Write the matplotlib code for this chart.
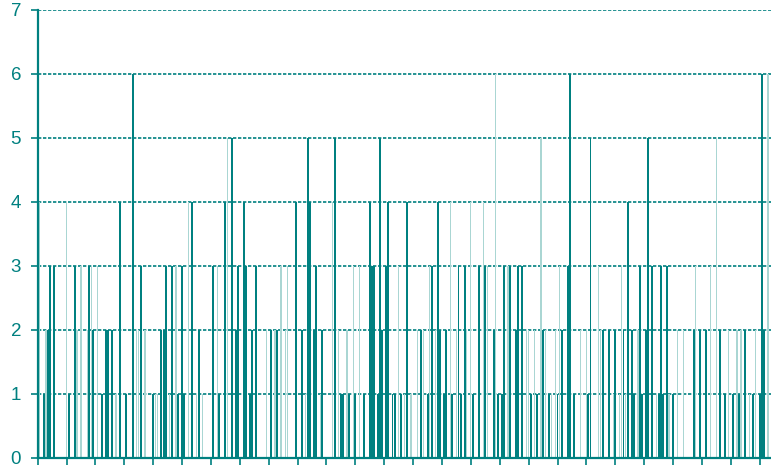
import numpy as np
import matplotlib.pyplot as plt

# counts per day, strong bars
dark_day = [3, 5, 6, 8, 15, 18, 25, 27, 31, 33, 34, 36, 40, 43, 46, 50, 56, 60, 61, 62,
            65, 68, 70, 71, 75, 78, 85, 88, 91, 94, 96, 97, 100, 101, 103, 104, 106, 113, 116, 125,
            128, 131, 132, 134, 135, 138, 144, 147, 148, 151, 154, 158, 161, 162, 163, 165, 166, 167, 169, 170,
            172, 173, 176, 179, 186, 189, 191, 194, 195, 197, 198, 201, 204, 205, 207, 211, 214, 217, 221, 223,
            225, 226, 229, 232, 233, 235, 239, 242, 245, 248, 252, 254, 257, 258, 260, 267, 268, 274, 277, 280,
            284, 286, 288, 289, 292, 293, 295, 296, 298, 301, 302, 303, 305, 308, 318, 321, 324, 331, 333, 337,
            340, 343, 347, 350, 351, 352]
dark_count = [1, 2, 3, 3, 1, 3, 3, 2, 1, 2, 2, 2, 4, 1, 6, 3, 1, 2, 2, 3,
              3, 1, 3, 1, 4, 2, 3, 1, 4, 5, 2, 3, 4, 3, 1, 2, 3, 2, 2, 4,
              2, 5, 4, 2, 3, 2, 5, 1, 1, 1, 1, 1, 4, 3, 3, 1, 5, 2, 3, 4,
              1, 1, 1, 4, 2, 1, 3, 4, 2, 1, 2, 1, 3, 1, 3, 1, 3, 3, 2, 1,
              1, 3, 3, 2, 3, 3, 1, 1, 2, 1, 1, 2, 3, 6, 1, 1, 5, 2, 2, 2,
              2, 4, 2, 1, 3, 1, 2, 5, 3, 1, 3, 1, 3, 1, 2, 2, 2, 2, 1, 1,
              1, 2, 1, 1, 6, 2]

# counts per day, faint bars
light_day = [1, 4, 14, 19, 21, 24, 26, 29, 38, 48, 49, 52, 57, 58, 64, 67, 73, 77, 80, 87,
             92, 111, 115, 118, 120, 121, 130, 137, 143, 146, 150, 153, 156, 175, 178, 181, 184, 187, 190, 193,
             200, 203, 208, 210, 216, 218, 222, 228, 237, 238, 241, 244, 246, 249, 251, 253, 263, 266, 272, 273,
             279, 282, 283, 285, 291, 300, 306, 310, 313, 319, 326, 329, 335, 339, 341, 345, 348, 354]
light_count = [4, 2, 4, 2, 3, 2, 3, 3, 1, 2, 2, 2, 1, 1, 1, 3, 4, 1, 1, 3,
               5, 2, 2, 3, 2, 3, 1, 1, 4, 2, 2, 3, 3, 3, 1, 1, 2, 2, 3, 2,
               4, 2, 2, 4, 4, 3, 6, 3, 2, 2, 2, 5, 2, 1, 2, 3, 2, 2, 3, 2,
               1, 1, 3, 1, 2, 1, 1, 2, 2, 3, 3, 5, 2, 2, 2, 1, 2, 6]

teal = "#008080"
pale = "#aad6d3"

fig = plt.figure(figsize=(7.71, 4.71), dpi=100)
ax = fig.add_axes([37.7 / 771, 13 / 471, 1 - 37.7 / 771, 448 / 471])

ax.bar(light_day, light_count, width=0.6, color=pale, linewidth=0, zorder=2)
ax.bar(dark_day, dark_count, width=0.95, color=teal, linewidth=0, zorder=3)

ax.set_xlim(0, 355.5)
ax.set_ylim(0, 7)
ax.set_xticks(np.arange(0, 351, 14))
ax.set_xticklabels([])
ax.set_yticks(range(8))

ax.yaxis.grid(True, color=teal, linestyle=(0, (2, 1)), linewidth=1.2, zorder=1)
ax.set_axisbelow(True)

for s in ["top", "right"]:
    ax.spines[s].set_visible(False)
for s in ["left", "bottom"]:
    ax.spines[s].set_color(teal)
    ax.spines[s].set_linewidth(1.6)

ax.tick_params(axis="both", colors=teal, length=5, width=1.2)
ax.tick_params(axis="y", pad=7, labelsize=13.5)
for lab in ax.get_yticklabels():
    lab.set_family("Liberation Sans")

fig.savefig("out.png", dpi=100)
